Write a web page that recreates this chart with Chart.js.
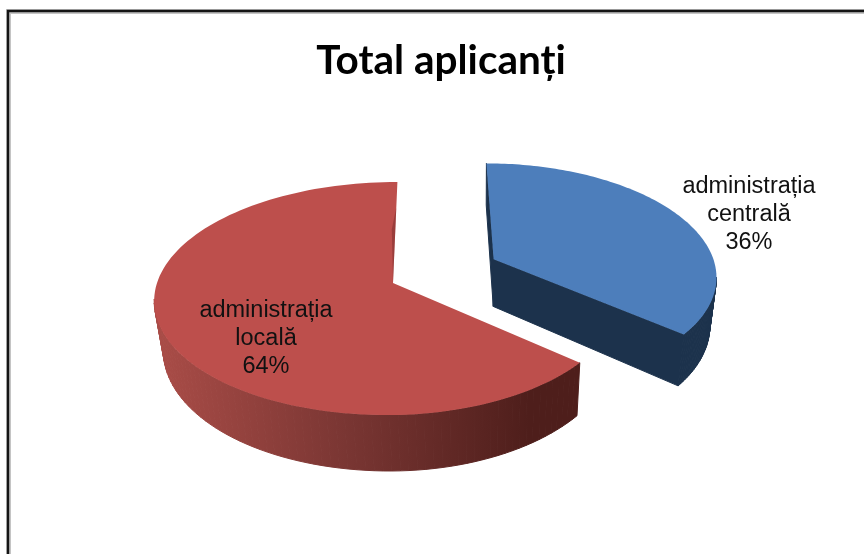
<!DOCTYPE html>
<html>
<head>
<meta charset="utf-8">
<style>
html,body{margin:0;padding:0;background:#fff;}
canvas{display:block;filter:blur(0.45px);}
</style>
<script src="https://cdn.jsdelivr.net/npm/chart.js@4"></script>
</head>
<body>
<canvas id="c" width="864" height="554"></canvas>
<script>
const chartTitle = 'Total aplicanți';
const categories = [['administrația', 'centrală'], ['administrația', 'locală']];
const values = [36, 64];
const topColours = ['#4d7ebb', '#bd4f4c'];
const explode = [91, 0];

// Perspective view of the pie's plane, applied to the library's arc elements.
const view = {cx: 393, cy: 283, a: 236, aRight: 226, b: 114.5, p: 0.133, shear: -5, depth: 48.5, vanishX: 480, lowerScale: 0.972};
const labelCentres = [[749, 215], [266, 339]];
const lineGap = 28;

function project(u, v) {
  const w = 1 - view.p * v;
  const a = u > 0 ? view.aRight : view.a;
  return {x: view.cx + (a * u + view.shear * v) / w, y: view.cy + view.b * v / w, w};
}
function lower(pt) {
  return {x: view.vanishX + (pt.x - view.vanishX) * view.lowerScale, y: pt.y + view.depth / pt.w};
}
function outline(el) {
  const o = el.options, R = el.outerRadius, mid = (el.startAngle + el.endAngle) / 2;
  const dx = (o.offset || 0) / R * Math.cos(mid), dy = (o.offset || 0) / R * Math.sin(mid);
  const pts = [project(dx, dy)];
  const n = 120;
  for (let i = 0; i <= n; i++) {
    const a = el.startAngle + (el.endAngle - el.startAngle) * i / n;
    pts.push(project(dx + Math.cos(a), dy + Math.sin(a)));
  }
  return pts;
}
function sideFill(ctx, i) {
  if (i === 0) return '#1c324c';
  const g = ctx.createLinearGradient(160, 0, 530, 0);
  g.addColorStop(0, '#a94c47');
  g.addColorStop(0.5, '#7a3633');
  g.addColorStop(1, '#4e1e1b');
  return g;
}
const pie3d = {
  id: 'pie3d',
  beforeDatasetDraw(chart, args) {
    const ctx = chart.ctx, els = chart.getDatasetMeta(args.index).data;
    ctx.save();
    els.forEach((el, i) => {
      const pts = outline(el);
      const fill = sideFill(ctx, i);
      const isExploded = (el.options.offset || 0) > 0;
      ctx.fillStyle = fill; ctx.strokeStyle = fill; ctx.lineWidth = 1;
      for (let k = 0; k < pts.length; k++) {
        const isCut = k === 0 || k === pts.length - 1;
        if (isCut && !isExploded) continue;
        const p1 = pts[k], p2 = pts[(k + 1) % pts.length], l1 = lower(p1), l2 = lower(p2);
        if (!isCut && p2.x >= p1.x) continue;
        ctx.beginPath();
        ctx.moveTo(p1.x, p1.y); ctx.lineTo(p2.x, p2.y); ctx.lineTo(l2.x, l2.y); ctx.lineTo(l1.x, l1.y);
        ctx.closePath(); ctx.fill(); ctx.stroke();
      }
      ctx.fillStyle = el.options.backgroundColor;
      ctx.beginPath();
      pts.forEach((q, k) => k ? ctx.lineTo(q.x, q.y) : ctx.moveTo(q.x, q.y));
      ctx.closePath(); ctx.fill();
      if (!isExploded) {
        // faint shading along the cut edge at twelve o'clock
        const s0 = project(0, 0), s1 = project(0, -0.72), s2 = project(-0.016, -0.5);
        ctx.fillStyle = 'rgba(110,40,40,0.45)';
        ctx.beginPath(); ctx.moveTo(s0.x, s0.y); ctx.lineTo(s1.x, s1.y); ctx.lineTo(s2.x, s2.y); ctx.closePath(); ctx.fill();
      }
    });
    ctx.restore();
    return false;
  },
  afterDraw(chart) {
    const ctx = chart.ctx;
    ctx.save();
    // frame: top and left edges only
    ctx.strokeStyle = '#c4c4c4'; ctx.lineWidth = 5;
    ctx.beginPath(); ctx.moveTo(8.5, 554); ctx.lineTo(8.5, 11.5); ctx.lineTo(864, 11.5); ctx.stroke();
    ctx.strokeStyle = '#141414'; ctx.lineWidth = 2.4;
    ctx.beginPath(); ctx.moveTo(8, 554); ctx.lineTo(8, 11); ctx.lineTo(864, 11); ctx.stroke();
    // data labels
    ctx.fillStyle = '#111';
    ctx.font = '23.5px "Liberation Sans"';
    ctx.textAlign = 'center'; ctx.textBaseline = 'middle';
    categories.forEach((lines, i) => {
      const all = lines.concat(values[i] + '%');
      const c = labelCentres[i];
      all.forEach((t, k) => ctx.fillText(t, c[0], c[1] + (k - (all.length - 1) / 2) * lineGap));
    });
    ctx.restore();
  }
};
new Chart(document.getElementById('c'), {
  type: 'pie',
  data: {
    labels: categories.map(l => l.join(' ')),
    datasets: [{data: values, backgroundColor: topColours, borderWidth: 0, offset: explode}]
  },
  plugins: [pie3d],
  options: {
    responsive: false,
    animation: false,
    layout: {padding: {left: 18, top: 0, right: 0, bottom: 0}},
    plugins: {
      legend: {display: false},
      tooltip: {enabled: false},
      title: {
        display: true, text: chartTitle, color: '#000',
        font: {family: 'Lato', size: 40.5, weight: 'bold'},
        padding: {top: 37, bottom: 14}
      }
    }
  }
});
</script>
</body>
</html>
